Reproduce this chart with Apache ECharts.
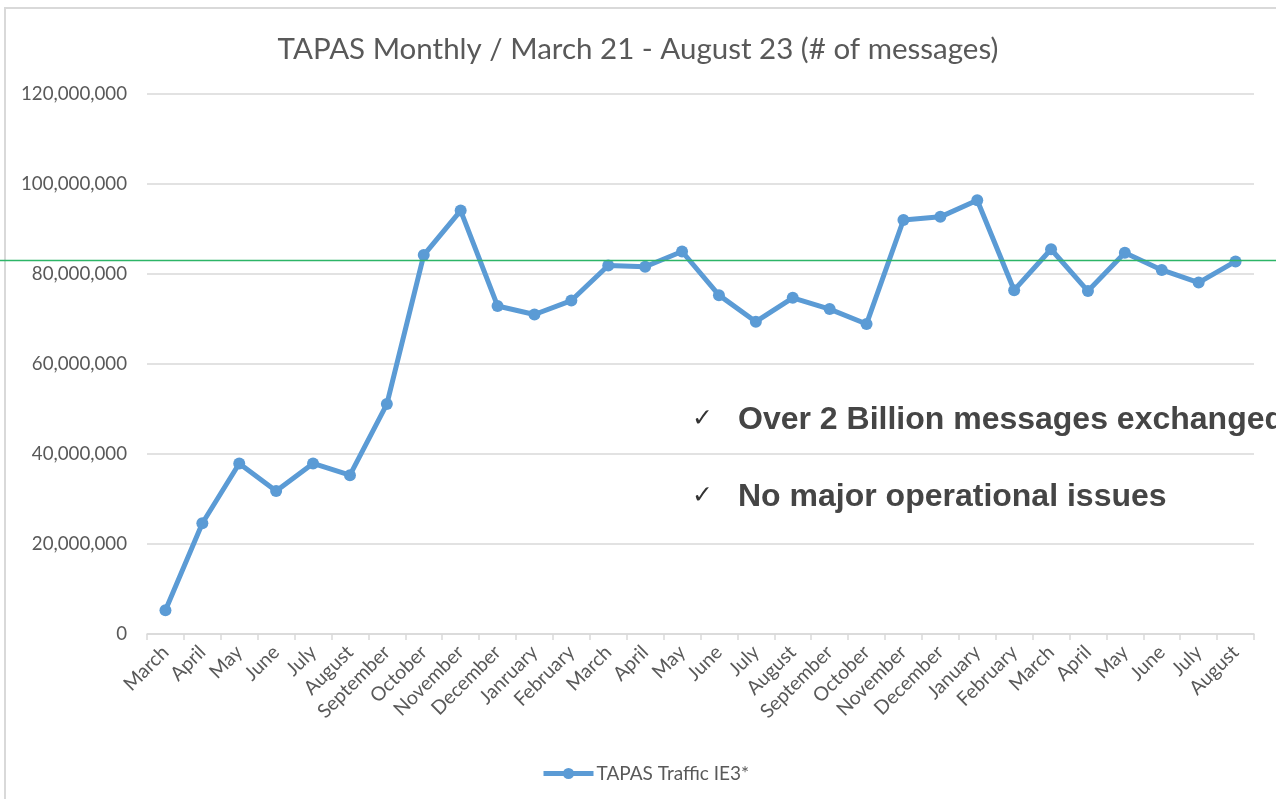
<!DOCTYPE html>
<html>
<head>
<meta charset="utf-8">
<title>TAPAS Monthly</title>
<script src="https://cdn.jsdelivr.net/npm/echarts@6/dist/echarts.min.js"></script>
<style>
  html, body { margin: 0; padding: 0; background: #fff; }
  #chart { width: 1276px; height: 799px; }
</style>
</head>
<body>
<div id="chart"></div>
<script>
// months, March 21 - August 23 (the "Janruary" typo is in the source)
const months = [
  'March', 'April', 'May', 'June', 'July', 'August', 'September', 'October',
  'November', 'December', 'Janruary', 'February', 'March', 'April', 'May',
  'June', 'July', 'August', 'September', 'October', 'November', 'December',
  'January', 'February', 'March', 'April', 'May', 'June', 'July', 'August'
];

// messages per month
const traffic = [
  5300000, 24600000, 37900000, 31800000, 37900000, 35300000, 51100000, 84200000,
  94100000, 72900000, 71000000, 74100000, 81900000, 81600000, 85000000,
  75300000, 69400000, 74700000, 72200000, 68900000, 92000000, 92700000,
  96400000, 76400000, 85500000, 76200000, 84700000, 80900000, 78100000, 82800000
];

// green reference line across the whole slide
const refLevel = 83000000;

const yTicks = { min: 0, max: 120000000, interval: 20000000 };

const notes = [
  'Over 2 Billion messages exchanged',
  'No major operational issues'
];

const chart = echarts.init(document.getElementById('chart'));
const grey = '#595959';
const font = 'Lato, "Open Sans", sans-serif';

const option = {
  backgroundColor: '#fff',
  animation: false,
  title: {
    text: 'TAPAS Monthly / March 21 - August 23 (# of messages)',
    left: 'center',
    top: 29,
    textStyle: { fontFamily: font, fontSize: 29.5, fontWeight: 'normal', color: grey }
  },
  legend: {
    data: ['TAPAS Traffic IE3*'],
    left: 536,
    top: 759,
    itemWidth: 50,
    itemHeight: 14,
    itemGap: 5,
    lineStyle: { width: 5 },
    textStyle: { fontFamily: font, fontSize: 19, color: grey, padding: [0, 0, 0, -2] }
  },
  grid: [
    { left: 147, right: 22, top: 94, bottom: 165 },
    { left: 0, right: 0, top: 94, bottom: 165 }
  ],
  xAxis: [
    {
      type: 'category',
      data: months,
      boundaryGap: true,
      axisLine: { lineStyle: { color: '#d9d9d9', width: 1.5 } },
      axisTick: { show: true, length: 6, lineStyle: { color: '#d9d9d9', width: 1.5 } },
      axisLabel: {
        interval: 0,
        rotate: 45,
        margin: 15,
        fontFamily: font,
        fontSize: 19.5,
        color: grey
      }
    },
    { gridIndex: 1, type: 'value', min: 0, max: 1, show: false }
  ],
  yAxis: [
    {
      type: 'value',
      min: yTicks.min,
      max: yTicks.max,
      interval: yTicks.interval,
      axisLine: { show: false },
      axisTick: { show: false },
      splitLine: { lineStyle: { color: '#d9d9d9', width: 1.5 } },
      axisLabel: {
        margin: 20,
        fontFamily: font,
        fontSize: 18.7,
        color: grey,
        formatter: v => v.toLocaleString('en-US')
      }
    },
    { gridIndex: 1, type: 'value', min: yTicks.min, max: yTicks.max, show: false }
  ],
  series: [
    {
      name: 'TAPAS Traffic IE3*',
      type: 'line',
      data: traffic,
      symbol: 'circle',
      symbolSize: 12,
      lineStyle: { color: '#5b9bd5', width: 5 },
      itemStyle: { color: '#5b9bd5' },
      z: 3
    },
    {
      name: 'ref',
      type: 'line',
      xAxisIndex: 1,
      yAxisIndex: 1,
      data: [[0, refLevel], [1, refLevel]],
      symbol: 'none',
      silent: true,
      lineStyle: { color: '#2db567', width: 1.5 },
      z: 4
    }
  ],
  graphic: [
    {
      type: 'rect',
      shape: { x: 5, y: 8, width: 1400, height: 1000 },
      style: { fill: 'none', stroke: '#d9d9d9', lineWidth: 2 },
      silent: true,
      z: -1
    },
    ...notes.map((t, i) => ({
      type: 'group',
      left: 692,
      top: 404 + i * 77,
      children: [
        {
          type: 'text',
          x: 0, y: 3,
          style: { text: '\u2713', font: '25px "DejaVu Sans", sans-serif', fill: '#333' }
        },
        {
          type: 'text',
          x: 46, y: 0,
          style: { text: t, font: 'bold 32px "Liberation Sans", Arial, sans-serif', fill: '#454545' }
        }
      ]
    }))
  ]
};

chart.setOption(option);
</script>
</body>
</html>
